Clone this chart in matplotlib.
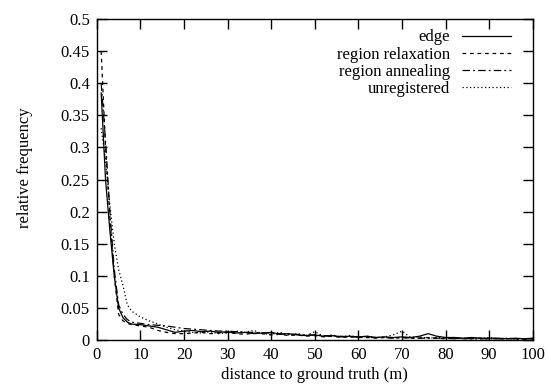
"""
Distance-to-ground-truth histogram for the registration methods.
"""

import matplotlib

matplotlib.use("Agg")
import matplotlib.pyplot as plt

dist = [1, 2, 3, 4, 5, 6, 7, 8, 10, 12, 14, 16, 18, 20, 22, 24, 26, 28, 30,
        32, 34, 36, 38, 40, 42, 44, 46, 48, 50, 52, 54, 56, 58, 60, 62, 64,
        66, 68, 70, 72, 74, 76, 78, 80, 82, 84, 86, 88, 90, 92, 94, 96, 98, 100]

edge = [0.385, 0.25, 0.17, 0.10, 0.05, 0.035, 0.028, 0.025, 0.024, 0.022,
        0.020, 0.016, 0.012, 0.014, 0.015, 0.013, 0.014, 0.012, 0.013,
        0.011, 0.012, 0.010, 0.011, 0.012, 0.009, 0.010, 0.008, 0.007,
        0.008, 0.006, 0.007, 0.005, 0.006, 0.005, 0.006, 0.004, 0.005,
        0.004, 0.005, 0.004, 0.006, 0.010, 0.006, 0.004, 0.004, 0.003,
        0.004, 0.003, 0.003, 0.003, 0.002, 0.003, 0.002, 0.003]

relaxation = [0.45, 0.30, 0.19, 0.10, 0.04, 0.030, 0.026, 0.024, 0.022,
              0.020, 0.015, 0.012, 0.010, 0.010, 0.011, 0.012, 0.010,
              0.011, 0.012, 0.010, 0.009, 0.011, 0.010, 0.008, 0.009,
              0.007, 0.008, 0.006, 0.007, 0.005, 0.006, 0.004, 0.005,
              0.004, 0.004, 0.003, 0.004, 0.003, 0.004, 0.003, 0.003,
              0.004, 0.003, 0.002, 0.003, 0.002, 0.002, 0.003, 0.002,
              0.002, 0.002, 0.002, 0.001, 0.002]

annealing = [0.40, 0.31, 0.20, 0.11, 0.055, 0.040, 0.032, 0.028, 0.026,
             0.024, 0.023, 0.022, 0.020, 0.018, 0.017, 0.016, 0.015,
             0.014, 0.014, 0.013, 0.012, 0.012, 0.011, 0.011, 0.010,
             0.009, 0.009, 0.008, 0.008, 0.007, 0.006, 0.006, 0.005,
             0.005, 0.004, 0.004, 0.004, 0.003, 0.004, 0.003, 0.003,
             0.003, 0.003, 0.003, 0.002, 0.003, 0.002, 0.002, 0.002,
             0.002, 0.002, 0.002, 0.002, 0.002]

unregistered = [0.33, 0.28, 0.21, 0.15, 0.11, 0.085, 0.055, 0.045, 0.036,
                0.030, 0.025, 0.020, 0.016, 0.014, 0.012, 0.011, 0.013,
                0.010, 0.011, 0.014, 0.012, 0.015, 0.010, 0.009, 0.012,
                0.008, 0.010, 0.007, 0.013, 0.006, 0.008, 0.005, 0.007,
                0.004, 0.006, 0.004, 0.005, 0.008, 0.014, 0.004, 0.005,
                0.003, 0.004, 0.003, 0.004, 0.002, 0.003, 0.002, 0.004,
                0.002, 0.003, 0.002, 0.002, 0.002]

x_ticks = [0, 10, 20, 30, 40, 50, 60, 70, 80, 90, 100]
y_ticks = [0, 0.05, 0.1, 0.15, 0.2, 0.25, 0.3, 0.35, 0.4, 0.45, 0.5]
y_tick_labels = ["0", "0.05", "0.1", "0.15", "0.2", "0.25", "0.3", "0.35",
                 "0.4", "0.45", "0.5"]

plt.rcParams["font.family"] = ["Liberation Serif", "DejaVu Serif"]
plt.rcParams["font.size"] = 12

fig = plt.figure(figsize=(5.47, 3.9), dpi=100)
ax = fig.add_axes([0.177, 0.128, 0.797, 0.823])

ax.plot(dist, edge, color="black", linewidth=0.9, linestyle="-", label="edge")
ax.plot(dist, relaxation, color="black", linewidth=0.9, linestyle=(0, (3, 3)),
        label="region relaxation")
ax.plot(dist, annealing, color="black", linewidth=0.9,
        linestyle=(0, (6, 2.5, 1.5, 2.5)), label="region annealing")
ax.plot(dist, unregistered, color="black", linewidth=0.9,
        linestyle=(0, (1, 2)), label="unregistered")

ax.set_xlim(0, 100)
ax.set_ylim(0, 0.5)
ax.set_xticks(x_ticks)
ax.set_xticklabels([str(t) for t in x_ticks])
ax.set_yticks(y_ticks)
ax.set_yticklabels(y_tick_labels)
ax.tick_params(direction="in", length=7, width=1.0, top=True, right=True,
               labelsize=12, pad=5)
for side in ax.spines.values():
    side.set_linewidth(1.0)

ax.set_xlabel("distance to ground truth (m)", fontsize=12, labelpad=3)
ax.set_ylabel("relative frequency", fontsize=12)
ax.yaxis.set_label_coords(-0.147, 0.536)

ax.legend(loc="upper right", bbox_to_anchor=(0.9495, 0.968), frameon=False,
          markerfirst=False, fontsize=12, handlelength=2.95,
          handletextpad=0.7, labelspacing=0.07, borderpad=0,
          borderaxespad=0)

plt.savefig("out.png", dpi=100)
plt.close()
